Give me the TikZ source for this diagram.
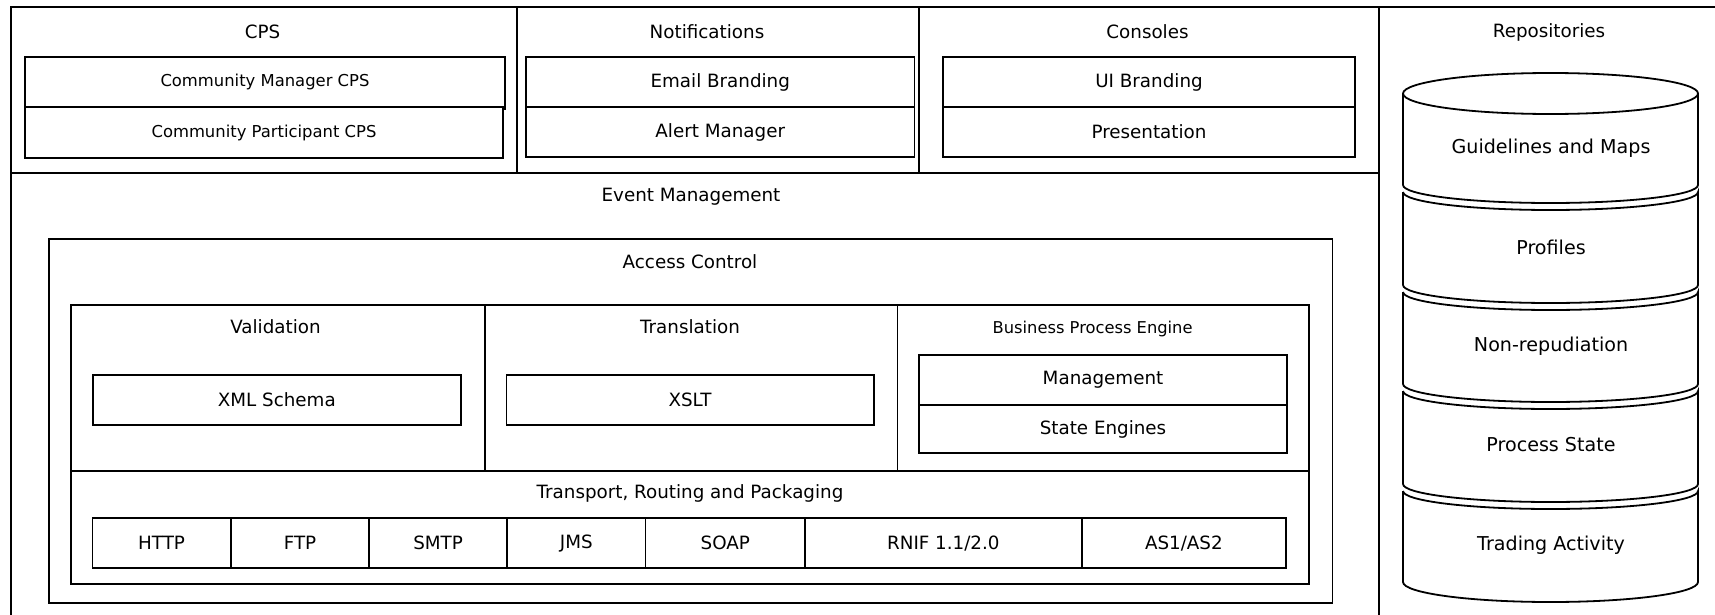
\documentclass[tikz,border=0pt]{standalone}
\usepackage{fontspec}
\setmainfont{DejaVu Sans}
\begin{document}
\begin{tikzpicture}[x=1pt,y=-1pt,line width=1.8pt,
  lbl/.style={font=\fontsize{18.3}{21}\selectfont, inner sep=0pt},
  small/.style={font=\fontsize{16.3}{19}\selectfont, inner sep=0pt},
  big/.style={font=\fontsize{19.1}{23}\selectfont, inner sep=0pt},
  box/.style={draw, rectangle, inner sep=0pt, font=\fontsize{18.3}{21}\selectfont},
  sbox/.style={box, font=\fontsize{16.4}{19}\selectfont},
  frame/.style={line width=1.8pt},
]
\useasboundingbox (0,0) rectangle (1715,615);
\newcommand\bx[7][box]{\node[#1, minimum width={(#5-#3)*1pt}, minimum height={(#6-#4)*1pt}] (#2) at ({(#3+#5)/2},{(#4+#6)/2}) {#7};}
% outer frame
\draw[frame] (11,615) -- (11,7) -- (1715,7);
\draw[frame] (11,173) -- (1379,173);
\draw[frame] (517,7) -- (517,173);
\draw[frame] (919,7) -- (919,173);
\draw[frame] (1379,7) -- (1379,615);
% top row labels
\node[lbl] (cps) at (262.5,32) {CPS};
\node[lbl] (notif) at (707,32) {Notifications};
\node[lbl] (cons) at (1147.5,32) {Consoles};
\node[lbl] (repo) at (1549,32) {Repositories};
% top row boxes
\bx[sbox]{mgr}{25}{57.3}{505}{107}{Community Manager CPS}
\draw (505,105) -- (505,110);
\bx[sbox]{part}{25}{107}{503}{158.3}{Community Participant CPS}
\bx{email}{526}{57.3}{914.5}{107}{Email Branding}
\bx{alert}{526}{107}{914.5}{157}{Alert Manager}
\bx{ui}{943}{57.3}{1355}{107}{UI Branding}
\bx{pres}{943}{107}{1355}{157}{Presentation}
% event management
\node[lbl] (evt) at (691,197) {Event Management};
\draw[frame] (49,239.3) rectangle (1332.5,602.7);
\node[lbl] (acc) at (690,262) {Access Control};
\draw[frame] (71,305.3) rectangle (1309,584.3);
\draw[frame] (71,470.7) -- (1309,470.7);
\draw[frame] (485,305.3) -- (485,470.7);
\draw[frame] (897.5,305.3) -- (897.5,470.7);
\node[lbl] (val) at (275.5,327) {Validation};
\node[lbl] (trans) at (690,327) {Translation};
\node[small] (bpe) at (1092.6,329) {Business Process Engine};
\bx{xml}{92.6}{375}{461}{425}{XML Schema}
\bx{xslt}{506.4}{375}{873.6}{425}{XSLT}
\bx{mgmt}{919}{354.7}{1287}{405}{Management}
\bx{state}{919}{405}{1287}{453.3}{State Engines}
\node[lbl] (trp) at (690,493) {Transport, Routing and Packaging};
\bx{http}{92.4}{518.3}{230.8}{568.3}{HTTP}
\bx{ftp}{230.8}{518.3}{369.2}{568.3}{FTP}
\bx{smtp}{369.2}{518.3}{507}{568.3}{SMTP}
\bx{jms}{507}{518.3}{645.5}{568.3}{JMS}
\bx{soap}{645.5}{518.3}{805}{568.3}{SOAP}
\bx{rnif}{805}{518.3}{1081.7}{568.3}{RNIF 1.1/2.0}
\bx{as}{1081.7}{518.3}{1286}{568.3}{AS1/AS2}
% cylinder
\draw (1550.5,93.5) ellipse [x radius=147.5pt, y radius=20.5pt];
\draw (1403,93.5) -- (1403,185) arc[start angle=180, end angle=360, x radius=147.5pt, y radius=18pt] -- (1698,93.5);
\foreach \t/\b in {192/285, 292/384, 391/484} {
  \draw (1403,\t) -- (1403,\b) arc[start angle=180, end angle=360, x radius=147.5pt, y radius=18pt]
     -- (1698,\t) arc[start angle=0, end angle=-180, x radius=147.5pt, y radius=18pt];
}
\draw (1403,491) -- (1403,582) arc[start angle=180, end angle=360, x radius=147.5pt, y radius=20pt]
     -- (1698,491) arc[start angle=0, end angle=-180, x radius=147.5pt, y radius=18pt];
\node[big] (gm) at (1551,148) {Guidelines and Maps};
\node[big] (prof) at (1551,247) {Profiles};
\node[big] (nonrep) at (1551,346) {Non-repudiation};
\node[big] (pstate) at (1551,445) {Process State};
\node[big] (trade) at (1551,545) {Trading Activity};
\end{tikzpicture}
\end{document}
